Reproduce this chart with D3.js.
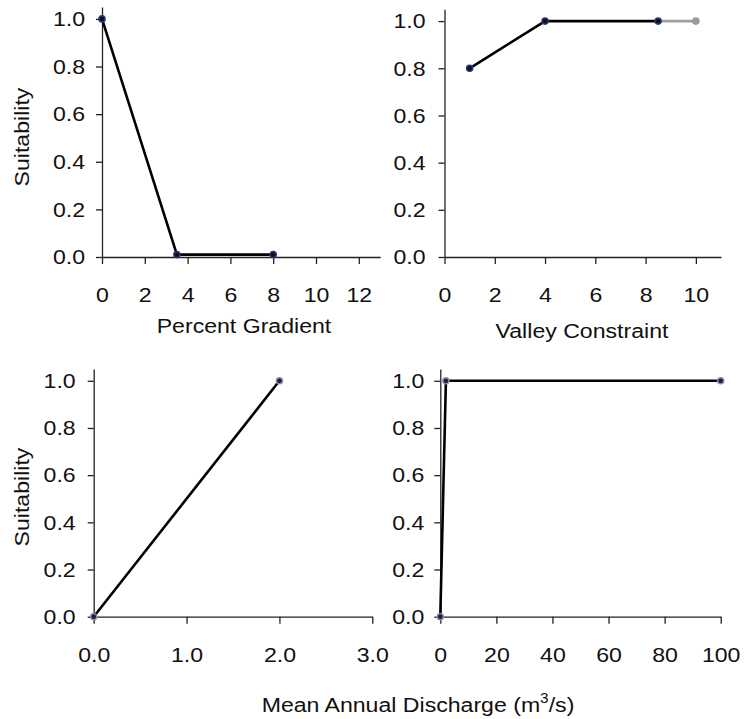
<!DOCTYPE html>
<html>
<head>
<meta charset="utf-8">
<script src="https://cdn.jsdelivr.net/npm/d3@7"></script>
<style>
  html, body { margin: 0; padding: 0; background: #fff; }
  svg { display: block; }
  text { font-family: 'Liberation Sans', Arial, Helvetica, sans-serif; fill: #111; }
  .wide { transform: scaleX(1.1); transform-box: fill-box; transform-origin: center; }
  .wide-r { transform: scaleX(1.1); transform-box: fill-box; transform-origin: right center; }
</style>
</head>
<body>
<script>
// Suitability curves for four habitat variables
const gradientX = [0, 3.5, 8];
const gradientY = [1, 0.01, 0.01];

const valleyX = [1, 4, 8.5];
const valleyY = [0.8, 1, 1];
const valleyExtX = [8.5, 10];
const valleyExtY = [1, 1];

const dischargeLowX = [0, 2];
const dischargeLowY = [0, 1];
const dischargeX = [0, 2, 100];
const dischargeY = [0, 1, 1];

// Tick values
const suitTicks = [0, 0.2, 0.4, 0.6, 0.8, 1.0];
const gradientTicks = [0, 2, 4, 6, 8, 10, 12];
const valleyTicks = [0, 2, 4, 6, 8, 10];
const dischargeLowTicks = [0, 1, 2, 3];
const dischargeTicks = [0, 20, 40, 60, 80, 100];

const W = 748, H = 719;
const svg = d3.select("body").append("svg").attr("width", W).attr("height", H);

const FS = 21;

function panel(opts) {
  const x = d3.scaleLinear().domain(opts.xDomain).range(opts.xRange);
  const y = d3.scaleLinear().domain([0, 1.05]).range(opts.yRange);
  const g = svg.append("g");

  // x axis
  const xa = g.append("g")
    .attr("transform", `translate(0,${opts.yRange[0]})`)
    .call(d3.axisBottom(x).tickValues(opts.xTicks).tickFormat(opts.xFormat)
      .tickSize(7).tickSizeOuter(0).tickPadding(23));
  // y axis
  const ya = g.append("g")
    .attr("transform", `translate(${opts.xRange[0]},0)`)
    .call(d3.axisLeft(y).tickValues(suitTicks).tickFormat(d3.format(".1f"))
      .tickSize(6).tickSizeOuter(0).tickPadding(opts.yPad));

  [xa, ya].forEach(a => {
    a.select(".domain").attr("stroke", "#222").attr("stroke-width", 1.3);
    a.selectAll(".tick line").attr("stroke", "#222").attr("stroke-width", 1.3);
    a.selectAll(".tick text").attr("font-size", FS).attr("fill", "#111")
      .attr("font-family", "'Liberation Sans', Arial, Helvetica, sans-serif");
  });
  xa.selectAll(".tick text").attr("class", "wide");
  ya.selectAll(".tick text").attr("class", "wide-r");

  const line = d3.line().x(d => x(d[0])).y(d => y(d[1]));
  opts.series.forEach(s => {
    const pts = d3.zip(s.xs, s.ys);
    g.append("path").datum(pts)
      .attr("d", line)
      .attr("fill", "none")
      .attr("stroke", s.color)
      .attr("stroke-width", 2.6)
      .attr("stroke-linejoin", "round");
  });
  opts.series.forEach(s => {
    const pts = d3.zip(s.xs, s.ys);
    g.selectAll(null).data(pts.filter((d, i) => !s.skip || !s.skip.includes(i)))
      .enter().append("circle")
      .attr("cx", d => x(d[0]))
      .attr("cy", d => y(d[1]))
      .attr("r", 3.1)
      .attr("fill", s.dotFill)
      .attr("stroke", s.dotStroke)
      .attr("stroke-width", 1.4);
  });
  return { x, y };
}

panel({
  xDomain: [0, 13], xRange: [102, 380.2], yRange: [257, 7], yPad: 11,
  xTicks: gradientTicks, xFormat: d3.format("d"),
  series: [{ xs: gradientX, ys: gradientY, color: "#000", dotFill: "#111", dotStroke: "#2b3a80" }]
});

panel({
  xDomain: [0, 11], xRange: [444.5, 721], yRange: [257, 9.3], yPad: 13,
  xTicks: valleyTicks, xFormat: d3.format("d"),
  series: [
    { xs: valleyExtX, ys: valleyExtY, color: "#a0a0a0", dotFill: "#9c9c9c", dotStroke: "#9c9c9c", skip: [0] },
    { xs: valleyX, ys: valleyY, color: "#000", dotFill: "#111", dotStroke: "#2b3a80" }
  ]
});

panel({
  xDomain: [0, 3], xRange: [93.7, 372.3], yRange: [616.7, 369], yPad: 12,
  xTicks: dischargeLowTicks, xFormat: d3.format(".1f"),
  series: [{ xs: dischargeLowX, ys: dischargeLowY, color: "#000", dotFill: "#222", dotStroke: "#8a8fc0" }]
});

panel({
  xDomain: [0, 100], xRange: [440.3, 720.7], yRange: [616.7, 369], yPad: 10,
  xTicks: dischargeTicks, xFormat: d3.format("d"),
  series: [{ xs: dischargeX, ys: dischargeY, color: "#000", dotFill: "#222", dotStroke: "#8a8fc0" }]
});

// Axis titles
function title(txt, cx, by) {
  return svg.append("text").attr("class", "wide")
    .attr("x", cx).attr("y", by).attr("text-anchor", "middle")
    .attr("font-size", FS).text(txt);
}
title("Percent Gradient", 244, 333);
title("Valley Constraint", 582, 338);

const mad = svg.append("text").attr("class", "wide")
  .attr("x", 418).attr("y", 712).attr("text-anchor", "middle").attr("font-size", FS);
mad.append("tspan").text("Mean Annual Discharge (m");
mad.append("tspan").attr("font-size", 14).attr("dy", -9).text("3");
mad.append("tspan").attr("dy", 9).text("/s)");

function ylab(cy) {
  svg.append("g").attr("transform", `translate(29,${cy}) rotate(-90)`)
    .append("text").attr("class", "wide")
    .attr("text-anchor", "middle").attr("font-size", FS).text("Suitability");
}
ylab(137);
ylab(497);
</script>
</body>
</html>
